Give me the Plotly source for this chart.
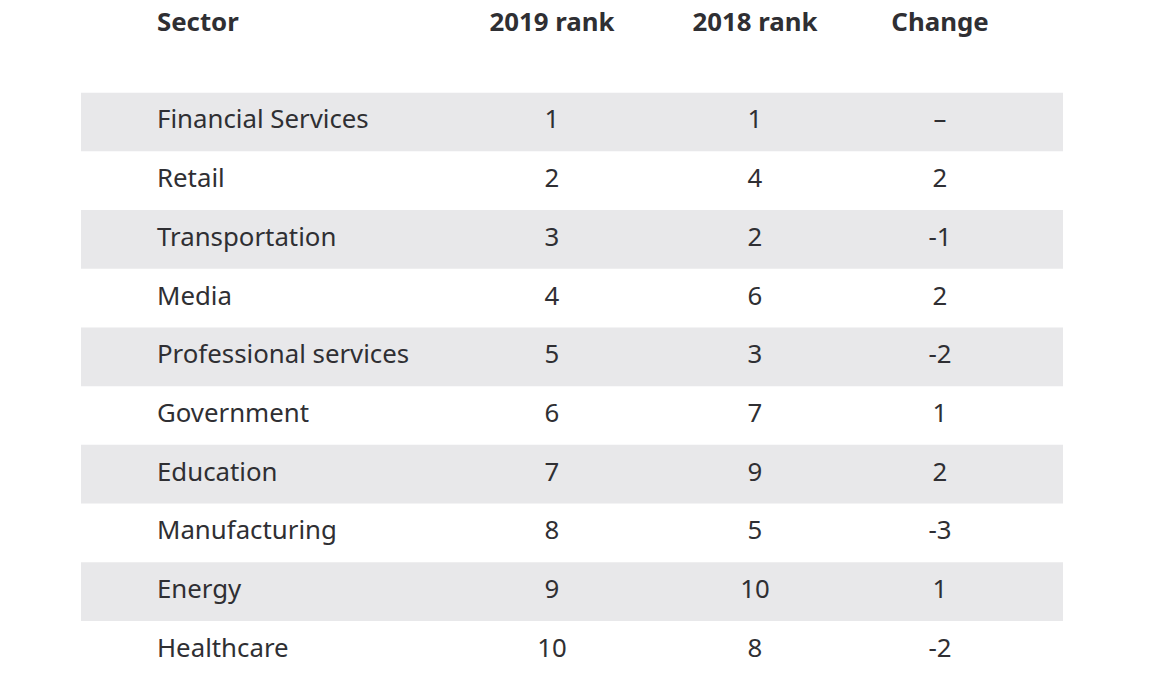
import plotly.graph_objects as go

columns = ["Sector", "2019 rank", "2018 rank", "Change"]
sectors = ["Financial Services", "Retail", "Transportation", "Media",
           "Professional services", "Government", "Education",
           "Manufacturing", "Energy", "Healthcare"]
rank_2019 = ["1", "2", "3", "4", "5", "6", "7", "8", "9", "10"]
rank_2018 = ["1", "4", "2", "6", "3", "7", "9", "5", "10", "8"]
change = ["–", "2", "-1", "2", "-2", "1", "2", "-3", "1", "-2"]

W, H = 1152, 688
row_h = 58.7
first_c = 122
col_x = [157, 552, 755, 940]
tbl_left, tbl_right = 81, 1063
header_idx = (25 - first_c) / row_h

FONT = "Noto Sans"
SIZE = 25.8
TXT = "#2f2f33"
FILL = "#e8e8ea"

fig = go.Figure()
rows = list(range(len(sectors)))

for i in rows:
    if i % 2 == 0:
        fig.add_shape(type="rect", xref="x", yref="y",
                      x0=tbl_left, x1=tbl_right, y0=i - 0.5, y1=i + 0.5,
                      fillcolor=FILL, line_width=0, layer="below")

fig.add_trace(go.Scatter(x=[col_x[0]] * len(rows), y=rows, text=sectors,
                         mode="text", textposition="middle right",
                         cliponaxis=False, hoverinfo="skip",
                         textfont=dict(family=FONT, size=SIZE, color=TXT)))
for cx, vals in zip(col_x[1:], [rank_2019, rank_2018, change]):
    fig.add_trace(go.Scatter(x=[cx] * len(rows), y=rows, text=vals,
                             mode="text", textposition="middle center",
                             cliponaxis=False, hoverinfo="skip",
                             textfont=dict(family=FONT, size=SIZE, color=TXT)))

# header
fig.add_trace(go.Scatter(x=[col_x[0]], y=[header_idx],
                         text=["<b>" + columns[0] + "</b>"], mode="text",
                         textposition="middle right", cliponaxis=False,
                         hoverinfo="skip",
                         textfont=dict(family=FONT, size=SIZE, color=TXT)))
fig.add_trace(go.Scatter(x=col_x[1:], y=[header_idx] * 3,
                         text=["<b>" + c + "</b>" for c in columns[1:]],
                         mode="text", textposition="middle center",
                         cliponaxis=False, hoverinfo="skip",
                         textfont=dict(family=FONT, size=SIZE, color=TXT)))

fig.update_layout(
    width=W, height=H, margin=dict(l=0, r=0, t=0, b=0),
    paper_bgcolor="white", plot_bgcolor="white", showlegend=False,
    xaxis=dict(range=[0, W], visible=False, fixedrange=True),
    yaxis=dict(range=[(H - first_c) / row_h, -first_c / row_h],
               visible=False, fixedrange=True),
)
fig.write_html("out.html",
               config={"displayModeBar": False},
               post_script="document.body.style.margin='0';"
                           "document.body.style.overflow='hidden';")
